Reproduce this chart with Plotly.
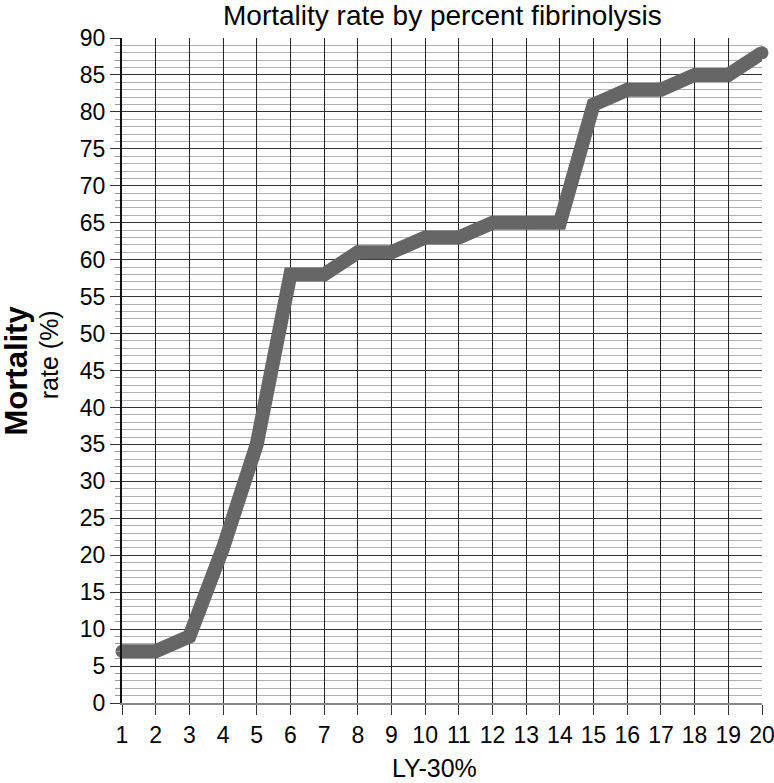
import plotly.graph_objects as go

ly30 = list(range(1, 21))
mortality = [7, 7, 9, 21, 35, 58, 58, 61, 61, 63, 63, 65, 65, 65, 81, 83, 83, 85, 85, 88]
y_ticks = list(range(0, 91, 5))

fig = go.Figure()
fig.add_trace(go.Scatter(
    x=ly30, y=mortality, mode="lines+markers",
    line=dict(color="#666666", width=14),
    marker=dict(color="#666666", size=13),
    cliponaxis=False, showlegend=False, hoverinfo="x+y",
))

font = "Liberation Sans, Arial, sans-serif"
fig.update_layout(
    width=774, height=783,
    margin=dict(l=122, r=12, t=38, b=80, autoexpand=False),
    paper_bgcolor="white", plot_bgcolor="white",
    font=dict(family=font, color="black"),
    annotations=[
        dict(text="Mortality rate by percent fibrinolysis", xref="paper", yref="paper",
             x=0.5, y=1.0, xanchor="center", yanchor="bottom", yshift=5, showarrow=False,
             font=dict(size=28, color="black")),
        dict(text="LY-30%", xref="paper", yref="paper", x=0.488, y=0, xanchor="center",
             yanchor="top", yshift=-49, showarrow=False, font=dict(size=25, color="black")),
        dict(text="<b>Mortality</b>", xref="paper", yref="paper", x=0, y=0.5,
             xanchor="center", yanchor="middle", xshift=-106, showarrow=False,
             textangle=-90, font=dict(size=31, color="black")),
        dict(text="rate (%)", xref="paper", yref="paper", x=0, y=0.523,
             xanchor="center", yanchor="middle", xshift=-73, showarrow=False,
             textangle=-90, font=dict(size=25, color="black")),
    ],
)
fig.update_xaxes(
    range=[1, 20], tickmode="array", tickvals=ly30, ticktext=[str(v) for v in ly30],
    showgrid=True, gridcolor="#222222", gridwidth=1, automargin=False,
    ticks="outside", ticklen=10, tickcolor="#333333", tickwidth=1,
    showline=True, linecolor="#888888", linewidth=2, ticklabeloverflow="allow",
    tickfont=dict(size=23), zeroline=False,
)
fig.update_yaxes(
    range=[0, 90], tickmode="array", tickvals=y_ticks, ticktext=[str(v) for v in y_ticks],
    showgrid=True, gridcolor="#333333", gridwidth=1, automargin=False,
    ticks="outside", ticklen=10, tickcolor="#333333", tickwidth=1,
    minor=dict(dtick=1, showgrid=True, gridcolor="#b0b0b0", gridwidth=1,
               ticks="outside", ticklen=5, tickcolor="#999999"),
    showline=True, linecolor="#111111", linewidth=2, ticklabeloverflow="allow",
    tickfont=dict(size=23), zeroline=False,
)
fig.write_html("out.html", config={"displayModeBar": False},
               post_script="document.body.style.margin='0px';document.body.style.overflow='hidden';")
